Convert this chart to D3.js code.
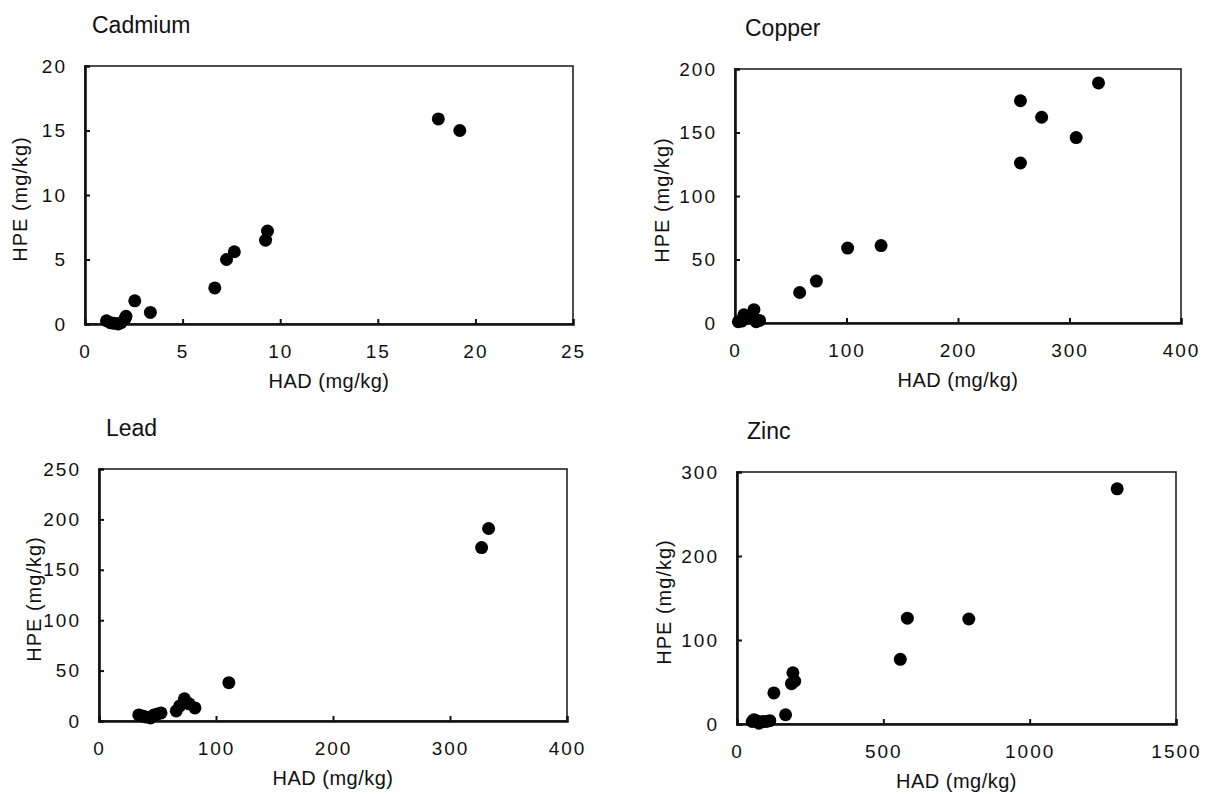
<!DOCTYPE html>
<html>
<head>
<meta charset="utf-8">
<script src="https://cdn.jsdelivr.net/npm/d3@7"></script>
<style>
  body { margin: 0; background: #fff; }
  svg { display: block; }
  text { font-family: "Liberation Sans", Arial, sans-serif; fill: #111; }
</style>
</head>
<body>
<svg id="graphique" width="1227" height="794"></svg>
<script>
// data, HAD on x, HPE on y (mg/kg)
var cadmiumHAD = [1.1, 1.3, 1.5, 1.7, 1.85, 2.05, 2.1, 2.55, 3.35, 6.65, 7.25, 7.65, 9.25, 9.35, 18.1, 19.2];
var cadmiumHPE = [0.25, 0.1, 0.05, 0.0, 0.1, 0.4, 0.6, 1.8, 0.9, 2.8, 5.0, 5.6, 6.5, 7.2, 15.9, 15.0];

var copperHAD = [3, 6, 8, 11, 14, 17, 19, 22, 58, 73, 101, 131, 256, 256, 275, 306, 326];
var copperHPE = [1, 1.5, 6.5, 4, 6, 10.5, 1, 2, 24, 33, 59, 61, 175, 126, 162, 146, 189];

var leadHAD = [34, 37, 40, 44, 47, 50, 53, 66, 69, 73, 77, 82, 111, 327, 333];
var leadHPE = [6, 5, 4, 3, 6, 7, 8, 10, 15, 22, 17, 13, 38, 172, 191];

var zincHAD = [52, 58, 66, 75, 88, 100, 112, 126, 166, 186, 191, 197, 558, 582, 792, 1299];
var zincHPE = [3, 5, 4, 1, 3, 3, 4, 37, 11, 48, 61, 51, 77, 126, 125, 280];

var titles = ["Cadmium", "Copper", "Lead", "Zinc"];
var xTicks = [[0, 5, 10, 15, 20, 25], [0, 100, 200, 300, 400], [0, 100, 200, 300, 400], [0, 500, 1000, 1500]];
var yTicks = [[0, 5, 10, 15, 20], [0, 50, 100, 150, 200], [0, 50, 100, 150, 200, 250], [0, 100, 200, 300]];
var xLabel = "HAD (mg/kg)";
var yLabel = "HPE (mg/kg)";

var seriesX = [cadmiumHAD, copperHAD, leadHAD, zincHAD];
var seriesY = [cadmiumHPE, copperHPE, leadHPE, zincHPE];

// plot frames (pixels) for each panel
var frames = [
  {left: 85, right: 573, top: 66, bottom: 324},
  {left: 735, right: 1181, top: 69, bottom: 323},
  {left: 99, right: 567, top: 469, bottom: 721},
  {left: 737, right: 1176, top: 472, bottom: 724}
];

var graphique = d3.select("#graphique");

for (var i = 0; i < 4; i++) {
  var f = frames[i];
  var xt = xTicks[i], yt = yTicks[i];

  var xScale = d3.scaleLinear().domain([xt[0], xt[xt.length - 1]]).range([f.left, f.right]);
  var yScale = d3.scaleLinear().domain([yt[0], yt[yt.length - 1]]).range([f.bottom, f.top]);

  var g = graphique.append("g");

  // frame, top/right lighter than the axes
  g.append("rect")
    .attr("x", f.left).attr("y", f.top)
    .attr("width", f.right - f.left).attr("height", f.bottom - f.top)
    .attr("fill", "none").attr("stroke", "#222").attr("stroke-width", 1.6);

  var xAxis = d3.axisBottom(xScale).tickValues(xt).tickFormat(d3.format("d")).tickSize(-5).tickPadding(21);
  var yAxis = d3.axisLeft(yScale).tickValues(yt).tickFormat(d3.format("d")).tickSize(-5).tickPadding(18);

  var gx = g.append("g").attr("transform", "translate(0," + f.bottom + ")").call(xAxis);
  var gy = g.append("g").attr("transform", "translate(" + f.left + ",0)").call(yAxis);

  [gx, gy].forEach(function(ax) {
    ax.attr("font-size", null).attr("font-family", null);
    ax.select(".domain").attr("stroke", "#111").attr("stroke-width", 2.6);
    ax.selectAll(".tick line").attr("stroke", "#111").attr("stroke-width", 2);
    ax.selectAll(".tick text")
      .style("font-size", "19px").style("letter-spacing", "2px")
      .attr("fill", "#111");
  });
  // first/last ticks sit on the frame corners, hide their marks
  gx.selectAll(".tick line").filter(function(d, k) { return k == 0 || k == xt.length - 1; }).remove();
  gy.selectAll(".tick line").filter(function(d, k) { return k == 0 || k == yt.length - 1; }).remove();

  // titles
  g.append("text")
    .attr("x", f.left + (i % 2 == 0 ? 7 : 10))
    .attr("y", f.top - 33)
    .style("font-size", "23px")
    .text(titles[i]);

  g.append("text")
    .attr("x", (f.left + f.right) / 2)
    .attr("y", f.bottom + 64)
    .attr("text-anchor", "middle")
    .style("font-size", "20px")
    .style("letter-spacing", "0.5px")
    .text(xLabel);

  g.append("text")
    .attr("transform", "translate(" + (f.left - (i % 2 == 0 ? 58 : 66)) + "," + ((f.top + f.bottom) / 2 + 4) + ") rotate(-90)")
    .attr("text-anchor", "middle")
    .style("font-size", "20px")
    .style("letter-spacing", "1px")
    .text(yLabel);

  // points
  var pts = seriesX[i].map(function(v, k) { return [v, seriesY[i][k]]; });
  g.selectAll("circle.pt").data(pts).enter().append("circle")
    .attr("class", "pt")
    .attr("cx", function(d) { return xScale(d[0]); })
    .attr("cy", function(d) { return yScale(d[1]); })
    .attr("r", 6.5)
    .attr("fill", "#000");
}
</script>
</body>
</html>
